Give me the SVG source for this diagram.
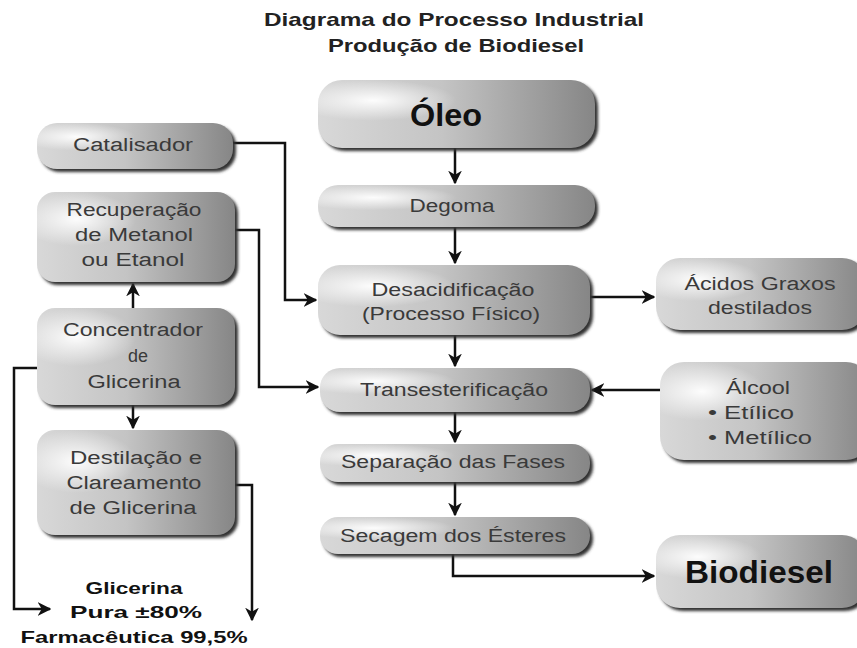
<svg xmlns="http://www.w3.org/2000/svg" width="857" height="648" viewBox="0 0 857 648">
<style>
.t{font-family:"Liberation Sans",Arial,sans-serif;font-size:18px;fill:#3a3a3a;text-anchor:middle}
.b{font-weight:bold;fill:#111}
.ttl{font-family:"Liberation Sans",Arial,sans-serif;font-size:19px;font-weight:bold;fill:#222;text-anchor:middle}
.box{fill:url(#g)}
.hl{fill:url(#h)}
.sh{fill:#333;filter:url(#blur)}
.c{fill:none;stroke:#111;stroke-width:2.5}
</style>
<defs>
<linearGradient id="g" x1="0" y1="0" x2="1" y2="0">
<stop offset="0" stop-color="#d8d8d8"/>
<stop offset="0.45" stop-color="#c4c4c4"/>
<stop offset="1" stop-color="#868686"/>
</linearGradient>
<radialGradient id="h" cx="0.2" cy="0.3" r="0.3">
<stop offset="0" stop-color="#ffffff" stop-opacity="0.95"/>
<stop offset="1" stop-color="#ffffff" stop-opacity="0"/>
</radialGradient>
<filter id="blur" x="-10%" y="-20%" width="120%" height="140%"><feGaussianBlur stdDeviation="1.5"/></filter>
<marker id="a" viewBox="0 0 10 10" refX="9" refY="5" markerWidth="5.5" markerHeight="5.5" orient="auto" markerUnits="strokeWidth">
<path d="M0,0 L10,5 L0,10 L3,5 z" fill="#111"/>
</marker>
</defs>
<rect width="857" height="648" fill="#fff"/>
<text class="ttl" x="454" y="26" textLength="380" lengthAdjust="spacingAndGlyphs">Diagrama do Processo Industrial</text>
<text class="ttl" x="456" y="52" textLength="256" lengthAdjust="spacingAndGlyphs">Produção de Biodiesel</text>

<g id="connectors">
<path class="c" d="M455,148 V183" marker-end="url(#a)"/>
<path class="c" d="M455,227 V263" marker-end="url(#a)"/>
<path class="c" d="M455,335 V366" marker-end="url(#a)"/>
<path class="c" d="M455,412 V442" marker-end="url(#a)"/>
<path class="c" d="M455,482 V515" marker-end="url(#a)"/>
<path class="c" d="M453,554 V576 H654" marker-end="url(#a)"/>
<path class="c" d="M590,297 H654" marker-end="url(#a)"/>
<path class="c" d="M660,390 H592" marker-end="url(#a)"/>
<path class="c" d="M233,143 H285 V300 H316" marker-end="url(#a)"/>
<path class="c" d="M235,230 H259 V387 H318" marker-end="url(#a)"/>
<path class="c" d="M133,308 V284" marker-end="url(#a)"/>
<path class="c" d="M133,405 V428" marker-end="url(#a)"/>
<path class="c" d="M38,368 H14 V609 H50" marker-end="url(#a)"/>
<path class="c" d="M235,485 H252 V620" stroke-width="2" marker-end="url(#a)"/>
</g>

<g id="oleo">
<rect class="sh" x="321" y="83" width="277" height="68" rx="24"/>
<rect class="box" x="318" y="80" width="277" height="68" rx="24"/>
<rect class="hl" x="318" y="80" width="277" height="68" rx="24"/>
<text class="t b" x="446" y="126" style="font-size:32px" textLength="72" lengthAdjust="spacingAndGlyphs">Óleo</text>
</g>
<g id="degoma">
<rect class="sh" x="321" y="188" width="277" height="42" rx="20"/>
<rect class="box" x="318" y="185" width="277" height="42" rx="20"/>
<rect class="hl" x="318" y="185" width="277" height="42" rx="20"/>
<text class="t" x="452" y="212" textLength="85" lengthAdjust="spacingAndGlyphs">Degoma</text>
</g>
<g id="desacidificacao">
<rect class="sh" x="321" y="268" width="272" height="70" rx="22"/>
<rect class="box" x="318" y="265" width="272" height="70" rx="22"/>
<rect class="hl" x="318" y="265" width="272" height="70" rx="22"/>
<text class="t" x="453" y="296" textLength="163" lengthAdjust="spacingAndGlyphs">Desacidificação</text>
<text class="t" x="451" y="320" textLength="178" lengthAdjust="spacingAndGlyphs">(Processo Físico)</text>
</g>
<g id="transesterificacao">
<rect class="sh" x="323" y="371" width="270" height="44" rx="20"/>
<rect class="box" x="320" y="368" width="270" height="44" rx="20"/>
<rect class="hl" x="320" y="368" width="270" height="44" rx="20"/>
<text class="t" x="454" y="396" textLength="188" lengthAdjust="spacingAndGlyphs">Transesterificação</text>
</g>
<g id="separacao">
<rect class="sh" x="323" y="447" width="270" height="38" rx="18"/>
<rect class="box" x="320" y="444" width="270" height="38" rx="18"/>
<rect class="hl" x="320" y="444" width="270" height="38" rx="18"/>
<text class="t" x="453" y="468" textLength="224" lengthAdjust="spacingAndGlyphs">Separação das Fases</text>
</g>
<g id="secagem">
<rect class="sh" x="323" y="520" width="270" height="37" rx="18"/>
<rect class="box" x="320" y="517" width="270" height="37" rx="18"/>
<rect class="hl" x="320" y="517" width="270" height="37" rx="18"/>
<text class="t" x="453" y="542" textLength="226" lengthAdjust="spacingAndGlyphs">Secagem dos Ésteres</text>
</g>
<g id="biodiesel">
<rect class="sh" x="659" y="538" width="210" height="73" rx="24"/>
<rect class="box" x="656" y="535" width="210" height="73" rx="24"/>
<rect class="hl" x="656" y="535" width="210" height="73" rx="24"/>
<text class="t b" x="759" y="583" style="font-size:32px" textLength="148" lengthAdjust="spacingAndGlyphs">Biodiesel</text>
</g>
<g id="acidos">
<rect class="sh" x="659" y="261" width="210" height="72" rx="24"/>
<rect class="box" x="656" y="258" width="210" height="72" rx="24"/>
<rect class="hl" x="656" y="258" width="210" height="72" rx="24"/>
<text class="t" x="760" y="290" textLength="151" lengthAdjust="spacingAndGlyphs">Ácidos Graxos</text>
<text class="t" x="760" y="314" textLength="104" lengthAdjust="spacingAndGlyphs">destilados</text>
</g>
<g id="alcool">
<rect class="sh" x="663" y="365" width="210" height="98" rx="24"/>
<rect class="box" x="660" y="362" width="210" height="98" rx="24"/>
<rect class="hl" x="660" y="362" width="210" height="98" rx="24"/>
<text class="t" x="726" y="394" style="text-anchor:start" textLength="64" lengthAdjust="spacingAndGlyphs">Álcool</text>
<text class="t" x="708" y="419" style="text-anchor:start" textLength="86" lengthAdjust="spacingAndGlyphs">• Etílico</text>
<text class="t" x="708" y="444" style="text-anchor:start" textLength="104" lengthAdjust="spacingAndGlyphs">• Metílico</text>
</g>
<g id="catalisador">
<rect class="sh" x="40" y="126" width="196" height="46" rx="20"/>
<rect class="box" x="37" y="123" width="196" height="46" rx="20"/>
<rect class="hl" x="37" y="123" width="196" height="46" rx="20"/>
<text class="t" x="133" y="151" textLength="120" lengthAdjust="spacingAndGlyphs">Catalisador</text>
</g>
<g id="recuperacao">
<rect class="sh" x="40" y="195" width="198" height="90" rx="18"/>
<rect class="box" x="37" y="192" width="198" height="90" rx="18"/>
<rect class="hl" x="37" y="192" width="198" height="90" rx="18"/>
<text class="t" x="134" y="216" textLength="135" lengthAdjust="spacingAndGlyphs">Recuperação</text>
<text class="t" x="134" y="241" textLength="118" lengthAdjust="spacingAndGlyphs">de Metanol</text>
<text class="t" x="133" y="266" textLength="103" lengthAdjust="spacingAndGlyphs">ou Etanol</text>
</g>
<g id="concentrador">
<rect class="sh" x="40" y="311" width="198" height="97" rx="18"/>
<rect class="box" x="37" y="308" width="198" height="97" rx="18"/>
<rect class="hl" x="37" y="308" width="198" height="97" rx="18"/>
<text class="t" x="133" y="336" textLength="140" lengthAdjust="spacingAndGlyphs">Concentrador</text>
<text class="t" x="138" y="362">de</text>
<text class="t" x="134" y="388" textLength="93" lengthAdjust="spacingAndGlyphs">Glicerina</text>
</g>
<g id="destilacao">
<rect class="sh" x="40" y="433" width="198" height="105" rx="18"/>
<rect class="box" x="37" y="430" width="198" height="105" rx="18"/>
<rect class="hl" x="37" y="430" width="198" height="105" rx="18"/>
<text class="t" x="136" y="464" textLength="132" lengthAdjust="spacingAndGlyphs">Destilação e</text>
<text class="t" x="134" y="489" textLength="135" lengthAdjust="spacingAndGlyphs">Clareamento</text>
<text class="t" x="133" y="514" textLength="127" lengthAdjust="spacingAndGlyphs">de Glicerina</text>
</g>
<g id="glicerina">
<text class="t b" x="134" y="594" style="font-size:17px" textLength="97" lengthAdjust="spacingAndGlyphs">Glicerina</text>
<text class="t b" x="136" y="618" style="font-size:17px" textLength="132" lengthAdjust="spacingAndGlyphs">Pura ±80%</text>
<text class="t b" x="134" y="643" style="font-size:17px" textLength="227" lengthAdjust="spacingAndGlyphs">Farmacêutica 99,5%</text>
</g>
</svg>
